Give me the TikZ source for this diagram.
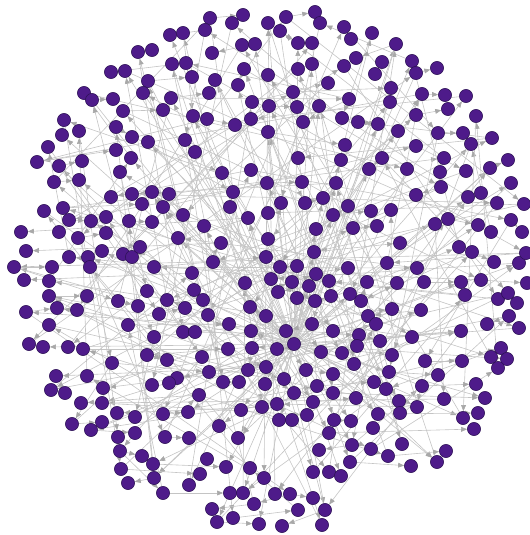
\documentclass[tikz,border=0pt]{standalone}
\usetikzlibrary{arrows.meta,backgrounds}
\definecolor{vertexfill}{RGB}{78,27,138}
\definecolor{vertexline}{RGB}{45,18,85}
\definecolor{linkgray}{RGB}{196,196,196}
\definecolor{tipgray}{RGB}{168,168,168}
\tikzset{
  vertex/.style={circle,fill=vertexfill,draw=vertexline,line width=0.4pt,minimum size=9.9pt,inner sep=0pt},
  link/.style={draw=linkgray,line width=0.45pt,-{Triangle[length=4.5pt,width=3.6pt,color=tipgray]}}
}
\begin{document}
\begin{tikzpicture}[x=0.75pt,y=-0.75pt]
\useasboundingbox (0,0) rectangle (530,535);

% the hub in the middle
\node[vertex] (hub) at (294,344) {};

% all other vertices
\foreach \px/\py [count=\k] in {
  210/18, 243/15, 232/23, 205/30, 170/35, 183/33, 138/52, 152/50, 242/45, 255/44,
  212/53, 172/64, 186/63, 111/72, 125/71, 148/81, 192/77, 215/80, 244/69, 238/85,
  84/93, 92/100, 113/99, 143/93, 171/98, 209/93, 252/102, 123/111, 163/110, 193/116,
  207/119, 235/125, 251/119, 64/120, 62/135, 79/131, 116/127, 132/137, 148/142, 185/140,
  195/152, 48/147, 37/162, 116/150, 131/158, 59/166, 82/161, 120/172, 54/182, 79/180,
  222/173, 251/170, 111/197, 132/194, 152/192, 169/194, 44/211, 63/208, 142/204, 163/207,
  233/192, 230/207, 183/215, 69/220, 91/221, 106/217, 129/221, 152/222, 204/226, 248/218,
  21/232, 59/232, 78/238, 106/233, 178/238, 221/243, 26/251, 69/257, 88/257, 102/251,
  123/254, 132/257, 140/247, 213/262, 14/267, 52/267, 90/267, 154/267, 266/257,
  268/23, 286/17, 315/12, 320/23, 280/31, 298/43, 312/43, 344/27, 351/39, 372/33,
  396/44, 356/58, 344/66, 382/62, 375/74, 412/61, 416/73, 437/68, 268/75, 298/69,
  312/64, 328/83, 293/92, 391/88, 390/102, 422/94, 445/95, 466/96, 269/106, 297/107,
  319/106, 349/99, 303/122, 342/118, 358/122, 378/124, 398/131, 416/115, 448/109, 476/116,
  268/132, 345/145, 416/146, 438/133, 463/133, 471/144, 492/138, 298/158, 341/160, 382/158,
  369/169, 407/169, 444/158, 440/172, 466/171, 490/168, 508/160, 511/183, 267/183, 302/182,
  336/183, 441/187, 416/195, 281/203, 305/203, 323/198, 348/206, 333/215, 371/211, 391/210,
  468/197, 481/193, 497/203, 524/204, 268/213, 316/229, 353/228, 377/226, 435/224, 448/219,
  478/225, 491/232, 511/220, 522/232, 268/239, 314/252, 400/243, 459/247, 472/252, 494/262,
  519/263, 526/253, 387/263, 417/268, 280/267, 297/266, 348/268,
  192/273, 24/280, 49/281, 49/296, 87/296, 147/291, 118/301, 138/306, 167/300, 194/290,
  203/300, 245/283, 26/312, 57/308, 77/310, 159/314, 185/308, 208/315, 250/307, 266/316,
  49/325, 128/325, 229/324, 251/331, 183/332, 195/332, 154/337, 29/344, 43/347, 68/347,
  83/349, 228/349, 252/348, 147/355, 167/360, 202/357, 112/363, 209/372, 248/370, 266/367,
  56/376, 87/376, 177/378, 169/383, 152/385, 223/382, 239/382, 265/384, 51/390, 65/393,
  103/388, 199/395, 81/403, 102/403, 262/407, 117/413, 135/417, 163/414, 188/412, 241/410,
  72/424, 102/422, 219/426, 91/430, 135/433, 118/437, 165/437, 189/438, 238/438, 120/451,
  142/456, 207/459, 153/464, 226/467, 250/468, 121/469, 200/474, 264/478, 154/478, 128/483,
  189/485, 163/493, 230/493, 243/493, 254/504, 212/509, 233/518, 217/522, 259/524,
  271/279, 292/282, 316/274, 329/281, 309/286, 278/292, 297/298, 315/301, 331/296, 350/294,
  361/301, 367/282, 397/283, 424/282, 461/282, 465/295, 481/280, 527/283, 498/299, 508/293,
  517/303, 392/309, 421/310, 368/316, 376/324, 509/316, 487/324, 519/328, 312/324, 286/331,
  333/331, 359/335, 380/341, 412/337, 461/331, 277/349, 321/352, 342/353, 357/346, 392/355,
  425/361, 462/361, 501/348, 491/357, 507/359, 498/368, 306/370, 333/374, 354/364, 389/372,
  438/375, 284/379, 317/386, 374/382, 386/389, 422/386, 476/384, 294/393, 333/393, 485/398,
  444/399, 313/402, 356/398, 399/401, 417/407, 277/404, 400/413, 378/414, 478/413, 463/418,
  279/420, 292/420, 307/415, 334/420, 351/421, 373/428, 329/433, 474/429, 402/444, 352/445,
  319/450, 371/449, 388/456, 446/451, 437/462, 350/462, 411/466, 313/472, 329/472, 341/476,
  275/494, 290/494, 313/498, 298/510, 325/510, 282/526, 322/525} {
  \node[vertex] (n\k) at (\px,\py) {};
  \xdef\numv{\k}
}

\begin{pgfonlayer}{background}
  % links out of the hub
  \foreach \i in {1,...,\numv} {
    \pgfmathtruncatemacro{\r}{mod(\i,5)}
    \ifnum\r=0 \draw[link] (hub) -- (n\i); \fi
  }
  % long links
  \foreach \i in {1,...,\numv} {
    \pgfmathtruncatemacro{\r}{mod(\i,3)}
    \pgfmathtruncatemacro{\j}{mod(\i*37+11,\numv)+1}
    \ifnum\r=2\else \ifnum\j=\i\else \draw[link] (n\j) -- (n\i); \fi\fi
  }
  % short links between neighbours
  \foreach \i in {1,...,\numv} {
    \pgfmathtruncatemacro{\r}{mod(\i,3)}
    \pgfmathtruncatemacro{\j}{\i+1}
    \ifnum\r=1 \ifnum\i<\numv \draw[link] (n\i) -- (n\j); \fi\fi
  }
\end{pgfonlayer}
\end{tikzpicture}
\end{document}
